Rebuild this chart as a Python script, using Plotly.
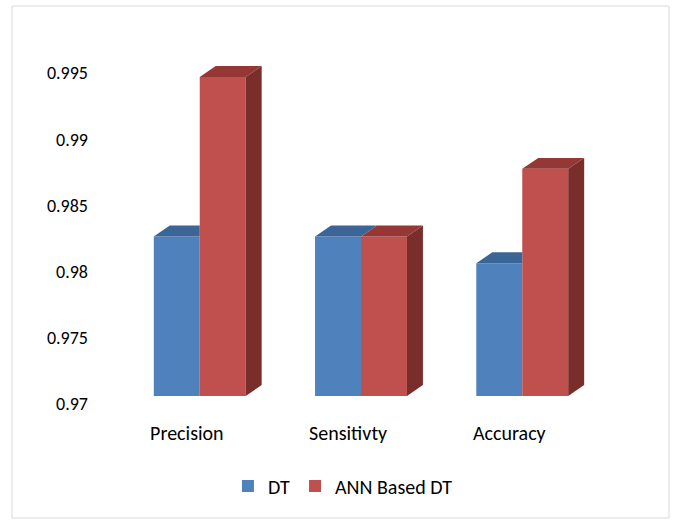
import plotly.graph_objects as go

categories = ["Precision", "Sensitivty", "Accuracy"]
dt_values = [0.9825, 0.9825, 0.9804]
ann_values = [0.995, 0.9825, 0.9878]
series_names = ["DT", "ANN Based DT"]
tick_values = [0.97, 0.975, 0.98, 0.985, 0.99, 0.995]
tick_labels = ["0.97", "0.975", "0.98", "0.985", "0.99", "0.995"]

BASE = 0.97
W = 0.285          # bar width (x units)
DX = 0.099         # depth offset in x units
DY = 0.00086       # depth offset in bar-axis units
FONT = "Carlito, Calibri, Lato, sans-serif"

FRONT = ["#4F81BD", "#C0504D"]
TOP = ["#3C6597", "#953735"]
SIDE = ["#2F4F76", "#7A2E2C"]

idx = list(range(len(categories)))
fig = go.Figure()

# front faces (bars)
fig.add_trace(go.Bar(x=idx, y=[v - BASE for v in dt_values], base=BASE, width=W, offset=-W,
                     name=series_names[0], marker=dict(color=FRONT[0], line=dict(width=0)),
                     yaxis="y2"))
fig.add_trace(go.Bar(x=idx, y=[v - BASE for v in ann_values], base=BASE, width=W, offset=0,
                     name=series_names[1], marker=dict(color=FRONT[1], line=dict(width=0)),
                     yaxis="y2"))


def poly(xs, ys, color):
    fig.add_trace(go.Scatter(x=xs + [xs[0]], y=ys + [ys[0]], fill="toself", fillcolor=color,
                             mode="lines", line=dict(width=0, color=color), hoverinfo="skip",
                             showlegend=False, yaxis="y2"))


for i in idx:
    v, a = dt_values[i], ann_values[i]
    x0, x1, x2 = i - W, i, i + W
    # DT top face (clipped where the ANN front face hides it)
    if a >= v + DY:
        poly([x0, x1, x1, x0 + DX], [v, v, v + DY, v + DY], TOP[0])
    else:
        poly([x0, x1, x1 + DX, x0 + DX], [v, v, v + DY, v + DY], TOP[0])
    # ANN top face
    poly([x1, x2, x2 + DX, x1 + DX], [a, a, a + DY, a + DY], TOP[1])
    # ANN side face
    poly([x2, x2 + DX, x2 + DX, x2], [BASE, BASE + DY, a + DY, a], SIDE[1])

# dummy trace on the label axis
fig.add_trace(go.Scatter(x=[None], y=[None], showlegend=False, hoverinfo="skip"))

fig.update_layout(
    width=673, height=520,
    margin=dict(l=103, r=54, t=45, b=110),
    paper_bgcolor="white", plot_bgcolor="white",
    barmode="overlay",
    font=dict(family=FONT, size=18, color="#000000"),
    showlegend=True,
    legend=dict(orientation="h", x=0.465, y=-0.208, xanchor="center", yanchor="middle",
                font=dict(size=20, family=FONT), traceorder="normal"),
    xaxis=dict(range=[-0.6, 2.6], tickvals=[i - 0.08 for i in idx], ticktext=categories,
               showgrid=False, zeroline=False, showline=False, ticks="",
               tickfont=dict(size=20, family=FONT), ticklabelstandoff=9),
    yaxis=dict(range=[0.969547, 0.997115], tickvals=tick_values, ticktext=tick_labels,
               showgrid=False, zeroline=False, showline=False, ticks="",
               tickfont=dict(size=18, family=FONT), ticklabelstandoff=14),
    yaxis2=dict(range=[0.968903, 0.997508], overlaying="y", visible=False),
    shapes=[dict(type="rect", xref="paper", yref="paper",
                 x0=-0.1764, x1=1.0969, y0=-0.2959, y1=1.1068,
                 line=dict(color="#D9D9D9", width=1), layer="below")],
)

fig.write_html("out.html", config={"displayModeBar": False},
               post_script="document.body.style.margin='0';")
